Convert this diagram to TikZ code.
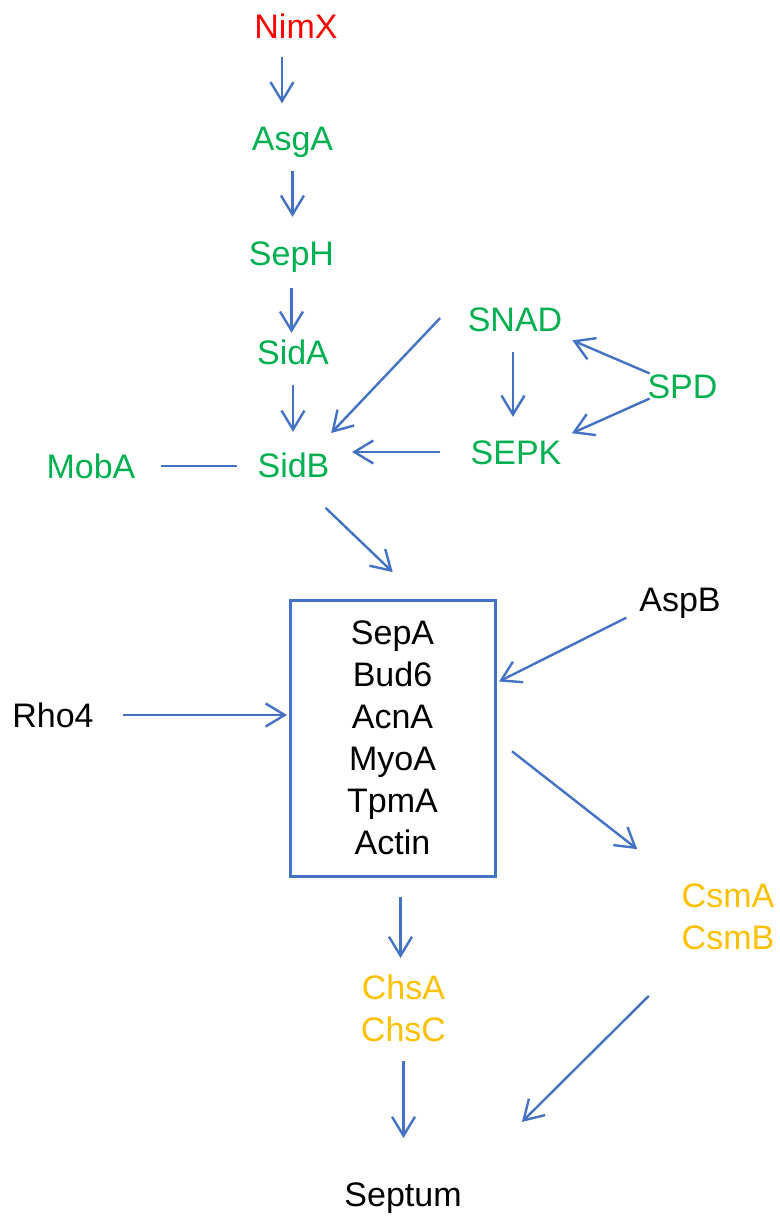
\documentclass[tikz,border=0pt]{standalone}
\usepackage{fontspec}
\setmainfont{Liberation Sans}
\usetikzlibrary{arrows.meta}
\definecolor{linkblue}{HTML}{4472C4}
\definecolor{genegreen}{HTML}{00B050}
\definecolor{geneyellow}{HTML}{FFC000}
\definecolor{genered}{HTML}{FF0000}
\begin{document}
\begin{tikzpicture}[x=1pt,y=-1pt,
  gene/.style={inner sep=0pt,outer sep=0pt,font=\fontsize{34}{42}\selectfont,
    text height=24.3pt,text depth=0pt},
  genes/.style={inner sep=0pt,outer sep=0pt,align=center,
    font=\fontsize{34}{42}\selectfont},
  early/.style={text=genegreen},
  late/.style={text=geneyellow},
  link/.style={draw=linkblue,line width=2.4pt,
    -{Straight Barb[length=19pt,width=23pt]}},
  plain/.style={draw=linkblue,line width=2.4pt},
  complexbox/.style={draw=linkblue,line width=3pt,inner sep=0pt,outer sep=0pt,
    minimum width=205pt,minimum height=276pt,align=center,
    font=\fontsize{34}{42}\selectfont}]
\useasboundingbox (0,0) rectangle (779,1217);

% signalling cascade
\node[gene,text=genered] (nimx) at (296,26) {NimX};
\node[gene,early] (asga) at (292.5,138.5) {AsgA};
\node[gene,early] (seph) at (291.5,253) {SepH};
\node[gene,early] (sida) at (293,352) {SidA};
\node[gene,early] (sidb) at (293.5,465) {SidB};
\node[gene,early] (moba) at (91,466) {MobA};
\node[gene,early] (snad) at (515,319) {SNAD};
\node[gene,early] (sepk) at (516,452) {SEPK};
\node[gene,early] (spd) at (682.5,386) {SPD};

% contractile ring components
\node[complexbox] (ring) at (392.5,738) {SepA\\Bud6\\AcnA\\MyoA\\TpmA\\Actin};
\node[gene] (rho4) at (53,715) {Rho4};
\node[gene] (aspb) at (680,599) {AspB};

% chitin synthases and septum
\node[genes,late] (csm) at (728,917) {CsmA\\CsmB};
\node[genes,late] (chs) at (403.5,1008) {ChsA\\ChsC};
\node[gene] (septum) at (403,1194) {Septum};

% cascade arrows
\draw[link,shorten <=19pt,shorten >=23pt] ([xshift=-14pt]nimx.south) -- ([xshift=-14pt]nimx.south |- asga.north);
\draw[link,shorten <=20pt,shorten >=24pt] (asga.south) -- (asga.south |- seph.north);
\draw[link,shorten <=23pt,shorten >=7pt] (seph.south) -- (seph.south |- sida.north);
\draw[link,shorten <=21pt,shorten >=21pt] (sida.south) -- (sida.south |- sidb.north);
\draw[plain,shorten <=25.6pt,shorten >=20.6pt] (moba.east) -- (moba.east -| sidb.west);
\draw[link,shorten <=21pt,shorten >=23pt] ([xshift=-2pt]snad.south) -- ([xshift=-2pt]snad.south |- sepk.north);
\draw[link,shorten <=1pt,shorten >=11pt] ([xshift=3pt]spd.north west) -- ([yshift=-17pt]snad.east);
\draw[link,shorten <=1pt,shorten >=11.6pt] ([xshift=3pt]spd.south west) -- ([yshift=14pt]sepk.east);
\draw[link,shorten <=30.6pt,shorten >=22.6pt] (sepk.west) -- (sepk.west -| sidb.east);
\draw[link,shorten <=15.4pt,shorten >=27.3pt] ([xshift=-17pt]snad.north west) -- ([xshift=-17pt]sidb.north east);

% inputs to the ring
\draw[link,shorten <=44.3pt,shorten >=40.3pt] (sidb.south) -- (ring.78.5);
\draw[link,shorten <=29.4pt,shorten >=3pt] (rho4.east) -- (rho4.east -| ring.west);
\draw[link,shorten <=14.6pt,shorten >=4.5pt] (aspb.south west) -- (ring.28.6);

% outputs towards the septum
\draw[link,shorten <=21.6pt,shorten >=56.5pt] (ring.east) -- (csm.north west);
\draw[link,shorten <=21pt,shorten >=16.5pt] ([xshift=-3pt]chs.north |- ring.south) -- ([xshift=-3pt]chs.north);
\draw[link,shorten <=20pt,shorten >=43.8pt] (chs.south) -- (chs.south |- septum.north);
\draw[link,shorten <=65pt,shorten >=85pt] (csm.-135) -- (septum.north east);
\end{tikzpicture}
\end{document}
